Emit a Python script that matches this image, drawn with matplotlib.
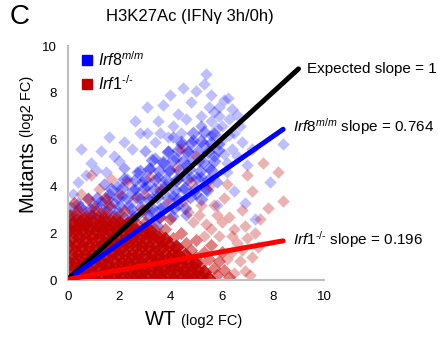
import numpy as np
import matplotlib
matplotlib.use("Agg")
import matplotlib.pyplot as plt
from matplotlib.lines import Line2D

plt.rcParams['font.family'] = ['Liberation Sans', 'DejaVu Sans']
plt.rcParams['mathtext.fontset'] = 'custom'
plt.rcParams['mathtext.rm'] = 'Liberation Sans'
plt.rcParams['mathtext.it'] = 'Liberation Sans:italic'

# ---- data (log2 FC) ----
# Irf1-/- : dense core near the origin
irf1_core_x = [0.02, 0.27, 0.55, 0.78, 1.03, 1.31, 1.55, 1.82, 2.06, 2.33, 2.58, 2.84, 3.1, 3.37, 3.6, 3.88, 4.12, 4.4, 4.63, 4.9, 5.18, 5.45,
               0.12, 0.4, 0.66, 0.92, 1.18, 1.44, 1.7, 1.96, 2.21, 2.47, 2.72, 2.98, 3.24, 3.5, 3.76, 4.02, 4.27, 4.53, 4.8, 5.05, 5.3,
               0.03, 0.29, 0.54, 0.8, 1.06, 1.32, 1.58, 1.83, 2.1, 2.35, 2.61, 2.87, 3.13, 3.39, 3.64, 3.9, 4.16, 4.42, 4.68, 4.95,
               0.15, 0.41, 0.67, 0.93, 1.19, 1.45, 1.71, 1.97, 2.23, 2.49, 2.75, 3.01, 3.27, 3.53, 3.79, 4.05, 4.31, 4.58,
               0.04, 0.3, 0.56, 0.82, 1.08, 1.34, 1.6, 1.86, 2.12, 2.38, 2.64, 2.9, 3.16, 3.42, 3.68, 3.94, 4.2,
               0.17, 0.43, 0.69, 0.95, 1.21, 1.47, 1.73, 1.99, 2.25, 2.51, 2.77, 3.03, 3.29, 3.55, 3.8,
               0.05, 0.31, 0.57, 0.83, 1.09, 1.35, 1.61, 1.87, 2.13, 2.39, 2.65, 2.92, 3.2,
               0.2, 0.46, 0.72, 0.98, 1.24, 1.5, 1.76, 2.02, 2.3]
irf1_core_y = [0.08, 0.12, 0.05, 0.15, 0.07, 0.1, 0.04, 0.13, 0.09, 0.06, 0.14, 0.08, 0.11, 0.05, 0.12, 0.09, 0.06, 0.13, 0.1, 0.07, 0.12, 0.08,
               0.38, 0.45, 0.41, 0.36, 0.47, 0.4, 0.43, 0.37, 0.46, 0.4, 0.35, 0.44, 0.42, 0.38, 0.46, 0.41, 0.37, 0.44, 0.39, 0.42, 0.36,
               0.74, 0.78, 0.71, 0.8, 0.73, 0.77, 0.7, 0.79, 0.75, 0.72, 0.8, 0.74, 0.76, 0.71, 0.79, 0.73, 0.77, 0.7, 0.75, 0.72,
               1.08, 1.13, 1.06, 1.12, 1.09, 1.04, 1.14, 1.07, 1.11, 1.05, 1.13, 1.08, 1.1, 1.04, 1.12, 1.07, 1.09, 1.05,
               1.44, 1.48, 1.41, 1.47, 1.43, 1.5, 1.42, 1.46, 1.4, 1.49, 1.44, 1.47, 1.41, 1.45, 1.43, 1.48, 1.4,
               1.79, 1.83, 1.76, 1.82, 1.78, 1.85, 1.77, 1.81, 1.75, 1.84, 1.79, 1.76, 1.82, 1.78, 1.74,
               2.14, 2.18, 2.12, 2.17, 2.1, 2.16, 2.13, 2.19, 2.11, 2.15, 2.12, 2.08, 2.1,
               2.46, 2.5, 2.43, 2.48, 2.44, 2.47, 2.42, 2.45, 2.4]
# Irf1-/- : fringe around the core
irf1_mid_x = [0.1, 0.4, 0.7, 1.0, 1.3, 1.6, 1.9, 2.2, 2.5, 0.25, 0.8, 1.45, 2.7, 3.0, 3.3, 3.5, 3.8, 4.1, 4.4,
              4.6, 4.3, 4.8, 5.0, 5.3, 5.2, 5.5, 5.7, 5.8, 6.1, 5.9, 6.3, 5.6, 3.6, 2.9, 4.0, 5.0, 6.0,
              0.08, 0.35, 0.63, 0.9, 1.17, 1.44, 1.72]
irf1_mid_y = [2.8, 3.0, 2.75, 3.1, 2.85, 3.2, 2.7, 2.95, 2.6, 3.3, 3.45, 3.5, 2.4, 2.5, 2.3, 2.0, 2.2, 1.8, 2.0,
              1.6, 1.4, 1.3, 1.0, 1.2, 0.7, 0.9, 0.5, 0.2, 0.45, 0.8, 0.15, 1.5, 2.7, 3.0, 2.6, 1.7, 1.2,
              2.74, 2.78, 2.71, 2.77, 2.72, 2.76, 2.7]
# Irf1-/- : sparse outliers
irf1_out_x = [7.6, 8.2, 8.4, 7.2, 6.8, 7.5, 6.5, 7.0, 6.4, 7.4, 6.7, 5.8, 6.1, 5.5, 4.8, 4.2, 3.6, 2.0, 1.2, 0.5,
              6.9, 7.2, 6.3, 5.2, 4.5, 3.2, 2.6, 5.9, 6.6, 7.8, 6.9, 5.4, 4.7, 3.9, 6.2, 7.0, 5.0, 4.4, 2.3, 3.0,
              6.5, 7.1, 1.7, 0.9, 5.3, 5.6, 6.0, 6.4, 5.7, 6.2, 6.8, 4.9, 5.1, 7.3]
irf1_out_y = [5.0, 4.6, 3.4, 3.8, 3.0, 2.6, 2.2, 1.8, 1.2, 1.4, 0.8, 2.8, 3.5, 4.0, 4.2, 4.8, 3.9, 3.7, 3.9, 3.7,
              0.4, 1.0, 2.7, 3.2, 3.4, 4.4, 3.5, 1.9, 1.6, 3.1, 2.3, 2.4, 2.9, 3.3, 4.1, 4.5, 5.3, 5.6, 4.2, 3.7,
              0.3, 0.2, 4.3, 4.5, 1.9, 2.2, 2.5, 1.9, 3.2, 0.9, 1.3, 2.5, 2.8, 2.0]

# Irf8m/m : dense diagonal band
irf8_band_x = [0.1, 0.45, 0.82, 1.18, 1.62, 2.03, 2.48, 2.97, 3.46,
               0.22, 0.61, 0.98, 1.41, 1.79, 2.2, 2.63, 3.08, 3.57, 4.06,
               0.12, 0.47, 0.86, 1.24, 1.66, 2.04, 2.46, 2.87, 3.27, 3.72, 4.14, 4.58,
               1.15, 1.52, 1.91, 2.29, 2.71, 3.12, 3.49, 3.92, 4.31, 4.77, 5.18,
               1.7, 2.12, 2.53, 2.96, 3.36, 3.74, 4.17, 4.56, 4.98, 5.41,
               2.2, 2.61, 3.02, 3.41, 3.83, 4.22, 4.63, 5.04, 5.48,
               2.8, 3.18, 3.57, 3.96, 4.34, 4.73, 5.16, 5.6,
               3.3, 3.71, 4.09, 4.48, 4.87, 5.27, 5.7,
               3.9, 4.28, 4.66, 5.06, 5.45, 5.86,
               4.4, 4.79, 5.18, 5.58,
               4.9, 5.3, 5.7]
irf8_band_y = [2.28, 2.35, 2.25, 2.33, 2.27, 2.36, 2.3, 2.24, 2.32,
               2.72, 2.66, 2.75, 2.69, 2.74, 2.65, 2.71, 2.77, 2.68, 2.73,
               3.08, 3.14, 3.05, 3.12, 3.09, 3.16, 3.04, 3.11, 3.07, 3.13, 3.06, 3.1,
               3.52, 3.46, 3.55, 3.49, 3.53, 3.47, 3.56, 3.5, 3.45, 3.54, 3.48,
               3.88, 3.94, 3.86, 3.92, 3.89, 3.95, 3.87, 3.93, 3.9, 3.85,
               4.32, 4.27, 4.34, 4.29, 4.33, 4.26, 4.31, 4.35, 4.28,
               4.68, 4.74, 4.66, 4.72, 4.69, 4.75, 4.67, 4.71,
               5.12, 5.06, 5.14, 5.08, 5.13, 5.05, 5.1,
               5.48, 5.54, 5.46, 5.52, 5.49, 5.55,
               5.92, 5.86, 5.94, 5.88,
               6.28, 6.34, 6.26]
# Irf8m/m : scattered points inside the band
irf8_core_x = [0.3, 0.6, 0.9, 0.4, 0.8, 1.0, 1.2, 1.3, 1.5, 1.6, 1.8, 1.9, 1.4, 2.0,
               2.1, 2.3, 2.4, 2.6, 2.7, 2.8, 2.9, 2.2, 2.5, 3.0,
               3.1, 3.2, 3.3, 3.4, 3.5, 3.6, 3.7, 3.8, 3.9, 3.3, 3.6, 4.0, 3.0,
               4.1, 4.2, 4.3, 4.4, 4.5, 4.6, 4.7, 4.8, 4.9, 4.3, 4.6, 5.0, 4.1,
               5.1, 5.2, 5.3, 5.4, 5.5, 5.6, 5.7, 5.8, 5.9, 5.2]
irf8_core_y = [2.6, 3.0, 2.8, 3.3, 3.5, 3.2, 2.7, 3.4, 3.0, 3.7, 3.3, 4.0, 4.1, 2.9,
               3.6, 4.3, 3.2, 3.9, 4.6, 3.5, 4.2, 4.8, 2.8, 3.0,
               4.0, 4.8, 3.5, 5.2, 4.4, 3.8, 5.0, 4.1, 5.5, 2.9, 3.1, 4.7, 5.5,
               3.6, 5.2, 4.3, 5.8, 3.9, 4.9, 5.5, 4.4, 6.0, 3.2, 2.8, 3.7, 6.1,
               5.1, 4.4, 5.8, 3.9, 4.8, 6.2, 5.3, 4.2, 5.8, 6.6]
# Irf8m/m : sparse outliers
irf8_out_x = [5.4, 5.3, 3.1, 3.7, 4.3, 4.8, 5.0, 5.6, 5.9, 6.1, 4.6, 5.2, 5.6, 6.3, 6.5, 5.8, 4.1, 3.5, 2.8, 1.6,
              3.1, 2.2, 1.3, 0.9, 0.4, 0.7, 1.8, 2.5, 3.4, 3.9, 4.4, 6.0, 6.8, 7.2, 8.4, 7.9, 7.0, 6.6, 6.2, 6.5,
              6.9, 7.3, 5.8, 1.1, 0.2, 0.5, 1.5, 2.0, 2.6, 3.6, 4.0, 4.5, 5.7, 6.4, 0.1, 0.5, 6.25, 6.6,
              6.0, 6.3, 6.1, 5.9, 6.4, 5.5, 6.7, 6.2]
irf8_out_y = [8.8, 8.4, 7.4, 7.5, 7.1, 7.6, 8.1, 7.9, 7.4, 7.7, 6.9, 7.0, 6.8, 6.9, 6.3, 6.5, 6.6, 6.8, 6.3, 6.1,
              6.3, 5.9, 5.5, 5.0, 4.2, 4.5, 5.3, 5.6, 5.9, 6.1, 6.3, 6.0, 5.9, 5.6, 5.8, 4.2, 4.9, 5.3, 4.6, 3.8,
              3.3, 2.6, 3.2, 4.7, 3.7, 5.6, 4.6, 5.1, 6.8, 6.3, 7.9, 8.2, 7.2, 5.6, 2.2, 2.0, 7.8, 7.05,
              6.6, 6.2, 5.4, 7.0, 7.3, 7.4, 6.6, 5.0]

# fitted slopes and where each fit line ends
slopes = [1.0, 0.764, 0.196]
line_start = [0.0, 0.3, 0.0]
line_end = [9.0, 8.4, 8.4]

BLUE = '#0000FF'
DRED = '#C00000'

fig = plt.figure(figsize=(4.38, 3.37), dpi=100)
ax = fig.add_axes([0.155, 0.169, 0.585, 0.694])

mk = dict(marker='D', linewidths=0)
ax.scatter(irf8_out_x, irf8_out_y, color=BLUE, alpha=0.25, s=40, **mk)
ax.scatter(irf8_band_x, irf8_band_y, color=BLUE, alpha=0.4, s=50, **mk)
ax.scatter(irf8_core_x, irf8_core_y, color=BLUE, alpha=0.35, s=40, **mk)
ax.scatter(irf1_out_x, irf1_out_y, color=DRED, alpha=0.3, s=40, **mk)
ax.scatter(irf1_mid_x, irf1_mid_y, color=DRED, alpha=0.5, s=45, **mk)
ax.scatter(irf1_core_x, irf1_core_y, color=DRED, alpha=0.85, s=65, **mk)

line_colors = ['black', BLUE, '#FF0000']
for s, x0, x1, c in zip(slopes, line_start, line_end, line_colors):
    xs = np.array([x0, x1])
    ax.plot(xs, s * xs + 0.03, color=c, lw=3.6, solid_capstyle='round', zorder=5)

ax.text(9.34, 9.02, 'Expected slope = 1', fontsize=11, va='center', ha='left')
ax.text(8.79, 6.55, r'$\mathit{Irf8}^{\mathit{m/m}}$ slope = 0.764', fontsize=11, va='center', ha='left')
ax.text(8.79, 1.72, r'$\mathit{Irf1}^{\mathit{\text{-}/\text{-}}}$ slope = 0.196', fontsize=11, va='center', ha='left')

ax.set_xlim(0, 10)
ax.set_ylim(0, 10)
ax.set_xticks(range(0, 11, 2))
ax.set_yticks(range(0, 11, 2))
ax.tick_params(length=0, labelsize=9.5, pad=8)
for side in ['top', 'right']:
    ax.spines[side].set_visible(False)
for side in ['left', 'bottom']:
    ax.spines[side].set_color('#BFBFBF')
    ax.spines[side].set_linewidth(1.5)

handles = [Line2D([], [], marker='s', ls='', color=BLUE, markersize=6.5),
           Line2D([], [], marker='s', ls='', color=DRED, markersize=6.5)]
ax.legend(handles, [r'$\mathit{Irf8}^{\mathit{m/m}}$', r'$\mathit{Irf1}^{\mathit{\text{-}/\text{-}}}$'],
          loc='upper left', bbox_to_anchor=(0.0, 1.03), frameon=False, fontsize=11.5,
          handletextpad=0.2, handlelength=1.0, labelspacing=0.3, borderaxespad=0.3)

# axis labels: big word + small unit
fig.text(145 / 438, 1 - 325 / 337, 'WT', fontsize=14.5, ha='left', va='baseline')
fig.text(181 / 438, 1 - 325 / 337, '(log2 FC)', fontsize=10.5, ha='left', va='baseline')
fig.text(32 / 438, 1 - 212 / 337, 'Mutants', fontsize=14.5, ha='left', va='baseline',
         rotation=90, rotation_mode='anchor')
fig.text(31 / 438, 1 - 137 / 337, '(log2 FC)', fontsize=10.5, ha='left', va='baseline',
         rotation=90, rotation_mode='anchor')

fig.text(190 / 438, 1 - 17 / 337, 'H3K27Ac (IFN\u03b3 3h/0h)', fontsize=12, ha='center', va='center')
fig.text(10 / 438, 1 - 17 / 337, 'C', fontsize=20, ha='left', va='center')

fig.savefig('out.png', dpi=100)
